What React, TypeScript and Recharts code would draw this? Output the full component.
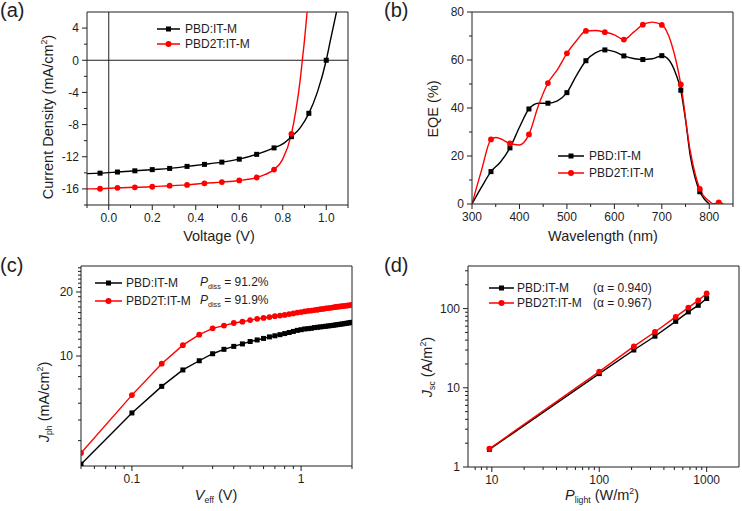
import React from "react";
import { ComposedChart, Line, XAxis, YAxis, ReferenceLine } from "recharts";

const FONT = '"Liberation Sans", Arial, Helvetica, sans-serif';
const INK = "#1e1e1e";
const BLACK = "#000000";
const RED = "#ff0000";

// (a) J-V curves
const jvMarkV = [-0.04, 0.04, 0.12, 0.2, 0.28, 0.36, 0.44, 0.52, 0.6, 0.68, 0.76, 0.84, 0.92, 1.0];
const jvMarkPbd = [-14.04, -13.9, -13.75, -13.6, -13.45, -13.2, -12.95, -12.67, -12.3, -11.7, -10.9, -9.5, -6.6, 0];
const jvMarkPbd2t = [-15.98, -15.86, -15.8, -15.73, -15.6, -15.5, -15.3, -15.15, -14.95, -14.58, -13.6, -9.15];
const jvCurveVPbd = [-0.1, -0.04, 0.04, 0.12, 0.2, 0.28, 0.36, 0.44, 0.52, 0.6, 0.68, 0.76, 0.8, 0.84, 0.88, 0.92, 0.96, 1.0, 1.02, 1.047];
const jvCurvePbd = [-14.1, -14.04, -13.9, -13.75, -13.6, -13.45, -13.2, -12.95, -12.67, -12.3, -11.7, -10.9, -10.4, -9.5, -8.4, -6.6, -3.9, 0, 2.6, 6];
const jvCurveVPbd2t = [-0.1, -0.04, 0.04, 0.12, 0.2, 0.28, 0.36, 0.44, 0.52, 0.6, 0.68, 0.72, 0.76, 0.8, 0.84, 0.86, 0.88, 0.89, 0.9, 0.912];
const jvCurvePbd2t = [-16.0, -15.98, -15.86, -15.8, -15.73, -15.6, -15.5, -15.3, -15.15, -14.95, -14.58, -14.2, -13.6, -12.3, -9.15, -6.3, -2.5, 0, 2.5, 6];

// (b) EQE spectra
const eqeMarkNm = [340, 380, 420, 460, 500, 540, 580, 620, 660, 700, 740, 780, 820];
const eqeMarkPbd = [13.5, 23.4, 39.6, 42, 46.4, 59.7, 64.2, 61.7, 60.2, 61.8, 47.4, 5.1];
const eqeMarkPbd2t = [26.9, 25.2, 29, 50.4, 62.8, 72.1, 71.6, 68.5, 74.7, 74.6, 49.8, 6.3, 0.7];
const eqeCurveNmPbd = [300, 320, 340, 360, 380, 400, 420, 440, 460, 480, 500, 520, 540, 560, 580, 600, 620, 640, 660, 680, 700, 715, 730, 740, 750, 760, 770, 780, 790, 800];
const eqeCurvePbd = [0, 7, 13.5, 17.5, 23.4, 32, 39.6, 42, 42, 43, 46.4, 53.5, 59.7, 63, 64.2, 63.5, 61.7, 60.6, 60.2, 60.5, 61.8, 60, 54, 47.4, 35, 20, 11, 5.1, 2, 0];
const eqeCurveNmPbd2t = [300, 320, 340, 350, 360, 380, 400, 420, 440, 460, 480, 500, 520, 540, 560, 580, 600, 620, 640, 660, 680, 700, 720, 740, 760, 780, 800, 810, 820, 830];
const eqeCurvePbd2t = [0, 14, 26.9, 27.7, 27.2, 25.2, 24.6, 29, 41, 50.4, 56, 62.8, 68, 72.1, 72.3, 71.6, 70.5, 68.5, 71.5, 74.7, 75.8, 74.6, 67, 49.8, 22, 6.3, 1.2, 0, 0.7, 0];

// (c) Jph vs Veff
const veff = [0.05, 0.1, 0.15, 0.2, 0.25, 0.3, 0.35, 0.4, 0.45, 0.5, 0.55, 0.6, 0.65, 0.7, 0.75, 0.8, 0.85, 0.9, 0.95, 1.0,
  1.05, 1.1, 1.15, 1.2, 1.25, 1.3, 1.35, 1.4, 1.45, 1.5, 1.55, 1.6, 1.65, 1.7, 1.75, 1.8, 1.85, 1.9, 1.95, 2.0];
const jphPbd = [3.1, 5.4, 7.2, 8.6, 9.5, 10.25, 10.75, 11.1, 11.4, 11.7, 11.9, 12.1, 12.3, 12.45, 12.6, 12.75, 12.9, 13.05, 13.2, 13.3,
  13.4, 13.45, 13.5, 13.6, 13.65, 13.7, 13.75, 13.8, 13.85, 13.9, 13.95, 14.0, 14.05, 14.1, 14.15, 14.2, 14.25, 14.3, 14.35, 14.4];
const jphPbd2t = [3.5, 6.55, 9.2, 11.25, 12.6, 13.5, 13.9, 14.3, 14.5, 14.75, 14.95, 15.1, 15.25, 15.4, 15.5, 15.6, 15.75, 15.85, 16.0, 16.1,
  16.2, 16.3, 16.35, 16.45, 16.5, 16.6, 16.65, 16.75, 16.8, 16.85, 16.95, 17.0, 17.05, 17.1, 17.15, 17.2, 17.25, 17.3, 17.35, 17.4];

// (d) Jsc vs light intensity
const pLight = [9.5, 100, 210, 330, 515, 675, 835, 1000];
const jscPbd = [1.67, 15.1, 30, 44.8, 69, 90.8, 110, 134];
const jscPbd2t = [1.7, 16, 33.4, 50.7, 78.5, 103, 127, 155];

type Pt = { x: number; y: number };
const zip = (xs: number[], ys: number[]): Pt[] => ys.map((y, i) => ({ x: xs[i], y }));

type AxisSpec = {
  domain: [number, number];
  log?: boolean;
  major: number[];
  minor: number[];
  fmt: (v: number) => string;
};

type SeriesSpec = {
  curve: Pt[];
  marks: Pt[];
  color: string;
  shape: "square" | "circle";
  smooth?: boolean;
};

const squareDot = (color: string, s: number) => (p: any) =>
  p.cx == null ? <g key={p.index} /> : <rect key={p.index} x={p.cx - s / 2} y={p.cy - s / 2} width={s} height={s} fill={color} />;
const circleDot = (color: string, r: number) => (p: any) =>
  p.cx == null ? <g key={p.index} /> : <circle key={p.index} cx={p.cx} cy={p.cy} r={r} fill={color} />;

const bottomTick = (spec: AxisSpec) => (p: any) => {
  const v = p.payload.value;
  const major = spec.major.includes(v);
  return (
    <g key={`bx${v}`}>
      <line x1={p.x} x2={p.x} y1={p.y} y2={p.y + (major ? 5 : 3)} stroke={INK} />
      {major && (
        <text x={p.x} y={p.y + 17} textAnchor="middle" fontSize={12} fontFamily={FONT} fill={INK}>
          {spec.fmt(v)}
        </text>
      )}
    </g>
  );
};

const leftTick = (spec: AxisSpec) => (p: any) => {
  const v = p.payload.value;
  const major = spec.major.includes(v);
  return (
    <g key={`ly${v}`}>
      <line x1={p.x} x2={p.x - (major ? 5 : 3)} y1={p.y} y2={p.y} stroke={INK} />
      {major && (
        <text x={p.x - 8} y={p.y} dy="0.36em" textAnchor="end" fontSize={12} fontFamily={FONT} fill={INK}>
          {spec.fmt(v)}
        </text>
      )}
    </g>
  );
};

type PanelProps = {
  left: number;
  top: number;
  w: number;
  h: number;
  plot: { l: number; t: number; r: number; b: number };
  x: AxisSpec;
  y: AxisSpec;
  series: SeriesSpec[];
  zeroLines?: boolean;
};

function Panel({ left, top, w, h, plot, x, y, series, zeroLines }: PanelProps) {
  return (
    <div style={{ position: "absolute", left, top, width: w, height: h }}>
      <ComposedChart width={w} height={h} margin={{ top: plot.t, right: w - plot.r, bottom: 0, left: 0 }}>
        <XAxis
          dataKey="x"
          type="number"
          scale={x.log ? "log" : "linear"}
          domain={x.domain}
          allowDataOverflow
          ticks={[...x.major, ...x.minor]}
          interval={0}
          tickSize={0}
          tickMargin={0}
          tickLine={false}
          axisLine={{ stroke: INK }}
          tick={bottomTick(x)}
          height={h - plot.b}
        />
        <YAxis
          type="number"
          scale={y.log ? "log" : "linear"}
          domain={y.domain}
          allowDataOverflow
          ticks={[...y.major, ...y.minor]}
          interval={0}
          tickSize={0}
          tickMargin={0}
          tickLine={false}
          axisLine={{ stroke: INK }}
          tick={leftTick(y)}
          width={plot.l}
        />
        <ReferenceLine y={y.domain[1]} stroke={INK} ifOverflow="visible" />
        <ReferenceLine x={x.domain[1]} stroke={INK} ifOverflow="visible" />
        {zeroLines && <ReferenceLine y={0} stroke={INK} />}
        {zeroLines && <ReferenceLine x={0} stroke={INK} />}
        {series.map((s, i) => (
          <Line
            key={`c${i}`}
            data={s.curve}
            dataKey="y"
            type={s.smooth ? "monotone" : "linear"}
            stroke={s.color}
            strokeWidth={1.4}
            dot={false}
            activeDot={false}
            isAnimationActive={false}
          />
        ))}
        {series.map((s, i) => (
          <Line
            key={`m${i}`}
            data={s.marks}
            dataKey="y"
            stroke="none"
            dot={s.shape === "square" ? squareDot(s.color, 5) : circleDot(s.color, 2.9)}
            activeDot={false}
            isAnimationActive={false}
          />
        ))}
      </ComposedChart>
    </div>
  );
}

function Title({ x, y, rotate, children }: { x: number; y: number; rotate?: boolean; children: React.ReactNode }) {
  return (
    <div
      style={{
        position: "absolute",
        left: x,
        top: y,
        transform: `translate(-50%, -50%)${rotate ? " rotate(-90deg)" : ""}`,
        whiteSpace: "nowrap",
        fontSize: 14.5,
        lineHeight: 1,
        color: INK,
      }}
    >
      {children}
    </div>
  );
}

function LegendRow({ x, y, len, gap, color, shape, children }: { x: number; y: number; len: number; gap: number; color: string; shape: "square" | "circle"; children: React.ReactNode }) {
  return (
    <div style={{ position: "absolute", left: x, top: y - 8, height: 16, display: "flex", alignItems: "center", whiteSpace: "nowrap", fontSize: 12, color: INK }}>
      <svg width={len} height={16} style={{ flex: "none" }}>
        <line x1={0} x2={len} y1={8} y2={8} stroke={color} strokeWidth={1.5} />
        {shape === "square" ? <rect x={len / 2 - 2.5} y={5.5} width={5} height={5} fill={color} /> : <circle cx={len / 2} cy={8} r={3} fill={color} />}
      </svg>
      <span style={{ marginLeft: gap }}>{children}</span>
    </div>
  );
}

function Note({ x, y, children }: { x: number; y: number; children: React.ReactNode }) {
  return (
    <div style={{ position: "absolute", left: x, top: y - 8, height: 16, display: "flex", alignItems: "center", whiteSpace: "nowrap", fontSize: 12, color: INK }}>
      <span>{children}</span>
    </div>
  );
}

const sub = { fontSize: "0.6em", verticalAlign: "-0.35em" } as const;
const sup = { fontSize: "0.6em", verticalAlign: "0.7em" } as const;

const tag = (t: string, x: number, y: number) => (
  <div style={{ position: "absolute", left: x, top: y, fontSize: 20, lineHeight: 1, color: INK }}>{t}</div>
);

export default function App() {
  const fmtLin1 = (v: number) => v.toFixed(1);
  const fmtInt = (v: number) => String(v);

  return (
    <div style={{ position: "absolute", left: 0, top: 0, width: 742, height: 511, background: "#fff", fontFamily: FONT, overflow: "hidden" }}>
      {/* (a) */}
      <Panel
        left={0}
        top={0}
        w={371}
        h={255}
        plot={{ l: 87, t: 12, r: 348, b: 205 }}
        x={{ domain: [-0.1, 1.1], major: [0, 0.2, 0.4, 0.6, 0.8, 1.0], minor: [-0.1, 0.1, 0.3, 0.5, 0.7, 0.9, 1.1], fmt: fmtLin1 }}
        y={{ domain: [-18, 6], major: [4, 0, -4, -8, -12, -16], minor: [2, -2, -6, -10, -14, -18], fmt: fmtInt }}
        zeroLines
        series={[
          { curve: zip(jvCurveVPbd, jvCurvePbd), marks: zip(jvMarkV, jvMarkPbd), color: BLACK, shape: "square", smooth: true },
          { curve: zip(jvCurveVPbd2t, jvCurvePbd2t), marks: zip(jvMarkV, jvMarkPbd2t), color: RED, shape: "circle", smooth: true },
        ]}
      />
      {/* (b) */}
      <Panel
        left={371}
        top={0}
        w={371}
        h={255}
        plot={{ l: 101, t: 12, r: 362, b: 204 }}
        x={{ domain: [300, 850], major: [300, 400, 500, 600, 700, 800], minor: [350, 450, 550, 650, 750, 850], fmt: fmtInt }}
        y={{ domain: [0, 80], major: [0, 20, 40, 60, 80], minor: [10, 30, 50, 70], fmt: fmtInt }}
        series={[
          { curve: zip(eqeCurveNmPbd, eqeCurvePbd), marks: zip(eqeMarkNm, eqeMarkPbd), color: BLACK, shape: "square", smooth: true },
          { curve: zip(eqeCurveNmPbd2t, eqeCurvePbd2t), marks: zip(eqeMarkNm, eqeMarkPbd2t), color: RED, shape: "circle", smooth: true },
        ]}
      />
      {/* (c) */}
      <Panel
        left={0}
        top={255}
        w={371}
        h={256}
        plot={{ l: 81, t: 11, r: 352, b: 211 }}
        x={{ domain: [0.05, 2], log: true, major: [0.1, 1], minor: [0.05, 0.06, 0.07, 0.08, 0.09, 0.2, 0.3, 0.4, 0.5, 0.6, 0.7, 0.8, 0.9, 2], fmt: fmtInt }}
        y={{ domain: [3.04, 26.5], log: true, major: [10, 20], minor: [4, 5, 6, 7, 8, 9, 11, 12, 13, 14, 15, 16, 17, 18, 19, 21, 22, 23, 24, 25, 26], fmt: fmtInt }}
        series={[
          { curve: zip(veff, jphPbd), marks: zip(veff, jphPbd), color: BLACK, shape: "square" },
          { curve: zip(veff, jphPbd2t), marks: zip(veff, jphPbd2t), color: RED, shape: "circle" },
        ]}
      />
      {/* (d) */}
      <Panel
        left={371}
        top={255}
        w={371}
        h={256}
        plot={{ l: 97, t: 11, r: 368, b: 212 }}
        x={{ domain: [6, 2000], log: true, major: [10, 100, 1000], minor: [7, 8, 9, 20, 30, 40, 50, 60, 70, 80, 90, 200, 300, 400, 500, 600, 700, 800, 900], fmt: fmtInt }}
        y={{ domain: [1, 345], log: true, major: [1, 10, 100], minor: [2, 3, 4, 5, 6, 7, 8, 9, 20, 30, 40, 50, 60, 70, 80, 90, 200, 300], fmt: fmtInt }}
        series={[
          { curve: zip(pLight, jscPbd), marks: zip(pLight, jscPbd), color: BLACK, shape: "square" },
          { curve: zip(pLight, jscPbd2t), marks: zip(pLight, jscPbd2t), color: RED, shape: "circle" },
        ]}
      />

      {tag("(a)", 0, 0)}
      {tag("(b)", 384, 0)}
      {tag("(c)", 0, 255)}
      {tag("(d)", 384, 255)}

      <Title x={48} y={117} rotate>
        Current Density (mA/cm<sup style={sup}>2</sup>)
      </Title>
      <Title x={219} y={236}>Voltage (V)</Title>
      <Title x={433} y={109} rotate>
        EQE (%)
      </Title>
      <Title x={603} y={236}>Wavelength (nm)</Title>
      <Title x={45} y={402} rotate>
        <i>J</i>
        <sub style={sub}>ph</sub> (mA/cm<sup style={sup}>2</sup>)
      </Title>
      <Title x={216} y={496}>
        <i>V</i>
        <sub style={sub}>eff</sub> (V)
      </Title>
      <Title x={428} y={367} rotate>
        <i>J</i>
        <sub style={sub}>sc</sub> (A/m<sup style={sup}>2</sup>)
      </Title>
      <Title x={602} y={496}>
        <i>P</i>
        <sub style={sub}>light</sub> (W/m<sup style={sup}>2</sup>)
      </Title>

      <LegendRow x={157} y={29} len={23} gap={5} color={BLACK} shape="square">PBD:IT-M</LegendRow>
      <LegendRow x={157} y={44} len={23} gap={5} color={RED} shape="circle">PBD2T:IT-M</LegendRow>

      <LegendRow x={558} y={156} len={26} gap={5} color={BLACK} shape="square">PBD:IT-M</LegendRow>
      <LegendRow x={558} y={173} len={26} gap={5} color={RED} shape="circle">PBD2T:IT-M</LegendRow>

      <LegendRow x={95} y={283} len={27} gap={4} color={BLACK} shape="square">PBD:IT-M</LegendRow>
      <LegendRow x={95} y={301} len={27} gap={4} color={RED} shape="circle">PBD2T:IT-M</LegendRow>
      <Note x={200} y={283}>
        <i>P</i>
        <sub style={sub}>diss</sub> = 91.2%
      </Note>
      <Note x={200} y={301}>
        <i>P</i>
        <sub style={sub}>diss</sub> = 91.9%
      </Note>

      <LegendRow x={489} y={288} len={25} gap={3} color={BLACK} shape="square">PBD:IT-M</LegendRow>
      <LegendRow x={489} y={303} len={25} gap={3} color={RED} shape="circle">PBD2T:IT-M</LegendRow>
      <Note x={593} y={288}>(α = 0.940)</Note>
      <Note x={593} y={303}>(α = 0.967)</Note>
    </div>
  );
}
